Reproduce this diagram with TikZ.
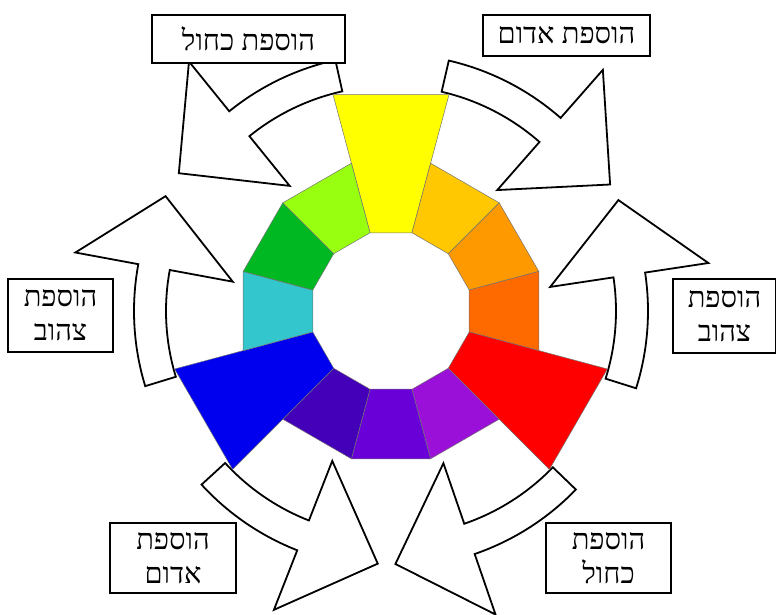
\documentclass[tikz,border=0pt]{standalone}
\usepackage{fontspec}
\usepackage{tikz}
\TeXXeTstate=1
\newfontfamily\hebfont[Script=Hebrew]{Liberation Serif}
\definecolor{whlyellow}{HTML}{FFFF00}
\definecolor{whlyelloworange}{HTML}{FFC800}
\definecolor{whlorange}{HTML}{FF9900}
\definecolor{whlredorange}{HTML}{FF6A00}
\definecolor{whlred}{HTML}{FF0000}
\definecolor{whlredviolet}{HTML}{9A10D8}
\definecolor{whlviolet}{HTML}{6A00D8}
\definecolor{whlblueviolet}{HTML}{4400B8}
\definecolor{whlblue}{HTML}{0000EE}
\definecolor{whlbluegreen}{HTML}{33C6CC}
\definecolor{whlgreen}{HTML}{00B822}
\definecolor{whlyellowgreen}{HTML}{99FF11}
\tikzset{
  tagbox/.style={draw=black, line width=1.6pt, fill=white, align=center, inner sep=0pt,
    font=\hebfont\fontsize{29}{34}\selectfont},
  blockarrow/.style={draw=black, line width=1.8pt, fill=white, line join=miter},
  wedge/.style={draw=black!55, line width=0.5pt}
}
\begin{document}
\begin{tikzpicture}[x=1pt, y=1pt]
  \useasboundingbox (0,0) rectangle (776,-614);
  \begin{scope}[shift={(391,-311)}]
    % curved arrows: tail / shoulder / tip angles
    \foreach \ta/\sa/\pa in {102.5/129/147, 77/48.7/30, -17.5/8.6/26, -44/-71/-89, 222.5/248.6/267, 197/169.5/153}{
      \draw[blockarrow] (\ta:225) arc[start angle=\ta, end angle=\sa, radius=225]
        -- (\sa:161) -- (\pa:253) -- (\sa:321) -- (\sa:257)
        arc[start angle=\sa, end angle=\ta, radius=257] -- cycle;
    }
    % colour wheel
    \foreach \a/\r/\c in {90/224/whlyellow, 60/153/whlyelloworange, 30/153/whlorange,
        0/153/whlredorange, -30/224/whlred, -60/153/whlredviolet, -90/153/whlviolet,
        -120/153/whlblueviolet, -150/224/whlblue, -180/153/whlbluegreen,
        -210/153/whlgreen, -240/153/whlyellowgreen}{
      \filldraw[wedge, fill=\c] (\a-15:81) -- (\a-15:\r) -- (\a+15:\r) -- (\a+15:81) -- cycle;
    }
  \end{scope}
  \node[tagbox, minimum width=193pt, minimum height=48pt] (addblueTL) at (248.5,-39) {\beginR הוספת כחול\endR};
  \node[tagbox, minimum width=167pt, minimum height=41pt] (addredTR) at (566.5,-35.5) {\beginR הוספת אדום\endR};
  \node[tagbox, minimum width=103pt, minimum height=74pt] (addyellowR) at (724.5,-316) {\beginR הוספת\endR\\\beginR צהוב\endR};
  \node[tagbox, minimum width=105pt, minimum height=73pt] (addyellowL) at (60.5,-315.5) {\beginR הוספת\endR\\\beginR צהוב\endR};
  \node[tagbox, minimum width=126pt, minimum height=70pt] (addredBL) at (173,-558) {\beginR הוספת\endR\\\beginR אדום\endR};
  \node[tagbox, minimum width=125pt, minimum height=70pt] (addblueBR) at (608.5,-558) {\beginR הוספת\endR\\\beginR כחול\endR};
\end{tikzpicture}
\end{document}
